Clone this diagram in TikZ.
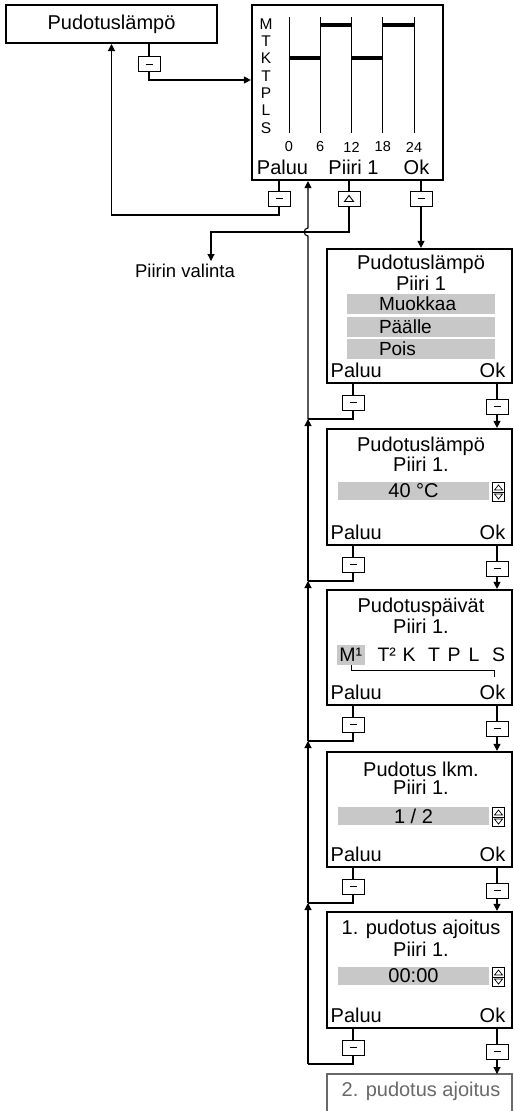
\documentclass[tikz,border=0pt]{standalone}
\usepackage{fontspec}
\setmainfont{Liberation Sans}
\usetikzlibrary{arrows.meta}
\definecolor{selgray}{RGB}{200,200,200}
\definecolor{nextgray}{RGB}{105,105,105}

\begin{document}
\begin{tikzpicture}[x=1pt, y=-1pt, >={Triangle[length=7pt,width=7pt]},
		font=\fontsize{20}{24}\selectfont,
		every node/.append style={inner sep=0pt},
		scr/.style={draw, line width=2.2pt, minimum width=185pt},
		wire/.style={line width=1.1pt},
		btn/.style={draw, line width=0.8pt, fill=white, minimum width=22pt, minimum height=15pt,
			path picture={\draw[line width=1pt] (path picture bounding box.center) ++(-3.5,0) -- ++(7,0);}},
		upbtn/.style={draw, line width=0.8pt, fill=white, minimum width=22pt, minimum height=15pt,
			path picture={\draw[line width=0.9pt] (path picture bounding box.center) ++(-4.5,3) -- ++(4.5,-6) -- ++(4.5,6) -- cycle;}},
		udbtn/.style={draw, line width=0.7pt, minimum width=12pt, minimum height=19pt,
			path picture={\draw[line width=0.7pt] (path picture bounding box.west) -- (path picture bounding box.east);
				\draw[line width=0.7pt] (path picture bounding box.center) ++(-4,-2) -- ++(4,-5) -- ++(4,5) -- cycle;
				\draw[line width=0.7pt] (path picture bounding box.center) ++(-4,2) -- ++(4,5) -- ++(4,-5) -- cycle;}},
		selbar/.style={fill=selgray, minimum width=151pt, minimum height=18pt},
		item/.style={fill=selgray, text width=148pt, minimum height=20pt, align=left, font=\fontsize{19}{20}\selectfont},
		dayf/.style={font=\fontsize{15.5}{16}\selectfont},
		hourf/.style={font=\fontsize{14.5}{16}\selectfont},
		weekf/.style={font=\fontsize{19.5}{20}\selectfont}]
		\useasboundingbox (0,0) rectangle (514,1111);

		% start entry
		\node[draw, line width=2pt, minimum width=211pt, minimum height=38pt] (lamp) at (111.5,24) {Pudotuslämpö};
		\node[btn] (k0) at (149,64) {};

		% weekly program
		\node[scr, minimum width=191pt, minimum height=175pt] (prog) at (347.5,92.5) {};
		\foreach \d [count=\i] in {M,T,K,T,P,L,S}
			\node[dayf] (pd\i) at ({266},{24+17.3*(\i-1)}) {\d};
		\foreach \h [count=\i] in {0,6,12,18,24} {
			\draw[line width=1pt] ({289+31.25*(\i-1)},17) -- ({289+31.25*(\i-1)},133);
			\node[hourf] (ph\i) at ({289+31.25*(\i-1)},147) {\h};
		}
		\draw[line width=4pt] (289,58) -- (320.25,58) (351.5,58) -- (382.75,58);
		\draw[line width=4pt] (320.25,25) -- (351.5,25) (382.75,25) -- (414,25);
		\node (pal1) at (282.5,167) {Paluu};
		\node (pii1) at (353.5,167) {Piiri 1};
		\node (okl1) at (416.5,167) {Ok};
		\node[btn] (pk1) at (279,198.5) {};
		\node[upbtn] (sel) at (349,198.5) {};
		\node[btn] (ok1) at (421,198.5) {};
		\node[font=\fontsize{18.5}{20}\selectfont, inner sep=3pt] (valinta) at (185,271) {Piirin valinta};

		% menu
		\node[scr, minimum height=134pt] (menu) at (419.5,316) {};
		\node (menut) at (421,264) {Pudotuslämpö};
		\node (menus) at (421,283) {Piiri 1};
		\node[item] (it1) at (421,304) {\hspace*{32pt}Muokkaa};
		\node[item] (it2) at (421,327) {\hspace*{32pt}Päälle};
		\node[item] (it3) at (421,349) {\hspace*{32pt}Pois};
		\node[anchor=west] (pal2) at (330.5,370.5) {Paluu};
		\node[anchor=east] (okl2) at (505.5,370.5) {Ok};
		\node[btn] (pk2) at (353,402.5) {};
		\node[btn] (ok2) at (497,406.5) {};
		\coordinate (j2) at (308,419);

		% temperature
		\node[scr, minimum height=116pt] (temp) at (419.5,487) {};
		\node (tempt) at (421,446) {Pudotuslämpö};
		\node (temps) at (421,464) {Piiri 1.};
		\node[selbar] (tempv) at (413.5,491) {40 °C};
		\node[udbtn] (tempud) at (498.5,492) {};
		\node[anchor=west] (pal3) at (330.5,532.5) {Paluu};
		\node[anchor=east] (okl3) at (505.5,532.5) {Ok};
		\node[btn] (pk3) at (353,564.5) {};
		\node[btn] (ok3) at (497,568.5) {};
		\coordinate (j3) at (308,581);

		% days
		\node[scr, minimum height=115pt] (days) at (419.5,647.5) {};
		\node (dayst) at (421,607) {Pudotuspäivät};
		\node (dayss) at (421,626) {Piiri 1.};
		\node[fill=selgray, minimum width=28pt, minimum height=20pt] (mhl) at (351,655) {};
		\node[weekf] (dm) at (347.5,655) {M\rlap{¹}};
		\foreach \d/\x [count=\i] in {T\rlap{²}/383.5, K/409, T/434, P/454, L/474, S/498.5}
			\node[weekf] (dd\i) at (\x,655) {\d};
		\draw[line width=0.8pt] (mhl.south) -- ++(0,5) -| (494,677);
		\node[anchor=west] (pal4) at (330.5,692.5) {Paluu};
		\node[anchor=east] (okl4) at (505.5,692.5) {Ok};
		\node[btn] (pk4) at (353,724.5) {};
		\node[btn] (ok4) at (497,728.5) {};
		\coordinate (j4) at (308,741);

		% count
		\node[scr, minimum height=115pt] (count) at (419.5,809.5) {};
		\node (countt) at (421,769) {Pudotus lkm.};
		\node (counts) at (421,787) {Piiri 1.};
		\node[selbar] (countv) at (413.5,816) {1 / 2};
		\node[udbtn] (countud) at (498.5,817) {};
		\node[anchor=west] (pal5) at (330.5,854.5) {Paluu};
		\node[anchor=east] (okl5) at (505.5,854.5) {Ok};
		\node[btn] (pk5) at (353,886.5) {};
		\node[btn] (ok5) at (497,890.5) {};
		\coordinate (j5) at (308,903);

		% time
		\node[scr, minimum height=116pt] (time) at (419.5,970) {};
		\node (timet) at (421,929) {1. pudotus ajoitus};
		\node (times) at (421,949) {Piiri 1.};
		\node[selbar] (timev) at (413.5,976) {00:00};
		\node[udbtn] (timeud) at (498.5,977) {};
		\node[anchor=west] (pal6) at (330.5,1015.5) {Paluu};
		\node[anchor=east] (okl6) at (505.5,1015.5) {Ok};
		\node[btn] (pk6) at (353,1047.5) {};
		\node[btn] (ok6) at (497,1051.5) {};
		\coordinate (j6) at (308,1064);

		% next screen, cut off
		\node[text=nextgray] (nxt) at (421,1091) {2. pudotus ajoitus};
		\draw[nextgray, line width=2pt] (327,1111) |- (512,1074) -- (512,1111);
		\coordinate (nxttop) at (497,1074);

		% connectors
		\draw[wire] (k0.north |- lamp.south) -- (k0.north);
		\draw[wire,->] (k0.south) |- (prog.west |- 0,80);
		\draw[wire] (pk1.north |- prog.south) -- (pk1.north);
		\draw[wire] (sel.north |- prog.south) -- (sel.north);
		\draw[wire] (ok1.north |- prog.south) -- (ok1.north);
		\draw[wire,->] (pk1.south) |- (lamp.south |- 0,215) -- (lamp.south);
		\draw[wire,->] (sel.south) |- (211,232) -- (valinta.north -| 211,0);
		\draw[wire,->] (ok1.south) -- (ok1.south |- menu.north);
		\draw[wire] (pk2.north |- menu.south) -- (pk2.north);
		\draw[wire] (pk2.south) |- (j2);
		\draw[wire] (ok2.north |- menu.south) -- (ok2.north);
		\draw[wire,->] (ok2.south) -- (ok2.south |- temp.north);
		\draw[wire] (pk3.north |- temp.south) -- (pk3.north);
		\draw[wire] (pk3.south) |- (j3);
		\draw[wire] (ok3.north |- temp.south) -- (ok3.north);
		\draw[wire,->] (ok3.south) -- (ok3.south |- days.north);
		\draw[wire] (pk4.north |- days.south) -- (pk4.north);
		\draw[wire] (pk4.south) |- (j4);
		\draw[wire] (ok4.north |- days.south) -- (ok4.north);
		\draw[wire,->] (ok4.south) -- (ok4.south |- count.north);
		\draw[wire] (pk5.north |- count.south) -- (pk5.north);
		\draw[wire] (pk5.south) |- (j5);
		\draw[wire] (ok5.north |- count.south) -- (ok5.north);
		\draw[wire,->] (ok5.south) -- (ok5.south |- time.north);
		\draw[wire] (pk6.north |- time.south) -- (pk6.north);
		\draw[wire] (pk6.south) |- (j6);
		\draw[wire] (ok6.north |- time.south) -- (ok6.north);
		\draw[wire,->] (ok6.south) -- (nxttop);
		% back line, hops over the Piiri 1 line
		\draw[wire,->] (j6) -- (j5);
		\draw[wire,->] (j5) -- (j4);
		\draw[wire,->] (j4) -- (j3);
		\draw[wire,->] (j3) -- (j2);
		\draw[wire,->] (j2) -- (308,236) .. controls (303,236) and (303,228) .. (308,228) -- (j2 |- prog.south);
	\end{tikzpicture}
\end{document}
